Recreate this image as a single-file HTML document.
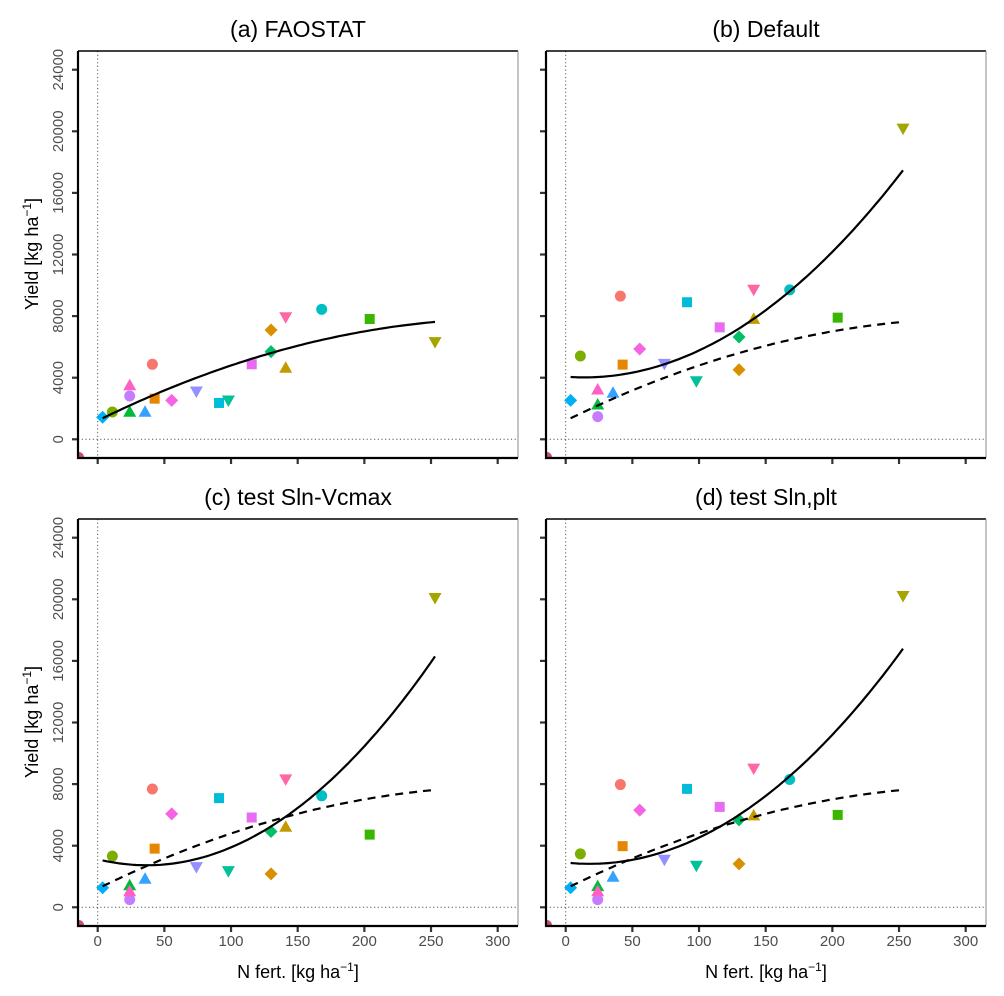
<!DOCTYPE html>
<html><head><meta charset="utf-8"><style>
body{margin:0;background:#fff;}
svg{display:block;font-family:"Liberation Sans",Arial,sans-serif;}
</style></head><body>
<svg id="chart" width="1004" height="996" viewBox="0 0 1004 996"></svg>
<script>
const nFert = [3.7,11,24,24,24,35.5,41,42.7,55.5,74,91,98,115.5,130,130,141,141,168,204,253];
const colors = ["#00B0F6","#7CAE00","#00BA38","#C77CFF","#FF61C3","#35A2FF","#F8766D","#E58700","#F564E3","#9590FF","#00BCD8","#00C19A","#E76BF3","#00BE67","#D89000","#C49A00","#FF67A4","#00BFC4","#39B600","#A3A500"];
const shapes = ["diamond","circle","triangle","circle","triangle","triangle","circle","square","diamond","down","square","down","square","diamond","diamond","triangle","down","circle","square","down"];
const yieldFAO = [1430,1770,1760,2810,3480,1760,4870,2640,2530,3140,2360,2550,4870,5690,7100,4610,7960,8440,7810,6340];
const yieldDefault = [2530,5410,2230,1470,3200,2990,9300,4850,5860,4930,8900,3800,7270,6640,4520,7790,9740,9700,7900,20210];
const yieldVcmax = [1270,3320,1400,500,1010,1820,7680,3810,6070,2640,7090,2380,5830,4920,2170,5200,8340,7240,4720,20120];
const yieldPlt = [1270,3470,1340,500,1010,1950,7970,3970,6310,3120,7690,2730,6520,5680,2820,5940,9040,8300,6000,20250];
const panelTitles = ["(a) FAOSTAT","(b) Default","(c) test Sln-Vcmax","(d) test Sln,plt"];
const yTicks = [0,4000,8000,12000,16000,20000,24000];
const xTicks = [0,50,100,150,200,250,300];

const NS="http://www.w3.org/2000/svg";
const svg=document.getElementById('chart');
function mk(tag,attrs,parent){const e=document.createElementNS(NS,tag);for(const k in attrs)e.setAttribute(k,attrs[k]);(parent||svg).appendChild(e);return e;}

function quadFit(xs,ys){
  let S=[0,0,0,0,0],T=[0,0,0];
  for(let i=0;i<xs.length;i++){let p=1;for(let k=0;k<5;k++){S[k]+=p;if(k<3)T[k]+=p*ys[i];p*=xs[i];}}
  const A=[[S[0],S[1],S[2],T[0]],[S[1],S[2],S[3],T[1]],[S[2],S[3],S[4],T[2]]];
  for(let i=0;i<3;i++){for(let j=i+1;j<3;j++){const f=A[j][i]/A[i][i];for(let k=i;k<4;k++)A[j][k]-=f*A[i][k];}}
  const c=[0,0,0];
  for(let i=2;i>=0;i--){let s=A[i][3];for(let k=i+1;k<3;k++)s-=A[i][k]*c[k];c[i]=s/A[i][i];}
  return c;
}
const faoFit=quadFit(nFert,yieldFAO);

const panels=[
 {L:78,T:51,R:518,B:458,y:yieldFAO,title:panelTitles[0],yl:true,xl:false,dash:false},
 {L:546,T:51,R:986,B:458,y:yieldDefault,title:panelTitles[1],yl:false,xl:false,dash:true},
 {L:78,T:519,R:518,B:926,y:yieldVcmax,title:panelTitles[2],yl:true,xl:true,dash:true},
 {L:546,T:519,R:986,B:926,y:yieldPlt,title:panelTitles[3],yl:false,xl:true,dash:true}
];
const names=['panel-a-faostat','panel-b-default','panel-c-sln-vcmax','panel-d-sln-plt'];

panels.forEach((p,pi)=>{
  const g=mk('g',{});
  
  
  const x0=p.L+19.7, xs=1.3333;
  const y0=p.B-18.7, ys=61.6/4000;
  const X=v=>x0+v*xs, Y=v=>y0-v*ys;
  const cid='clip'+pi;
  const cp=mk('clipPath',{id:cid},g);mk('rect',{x:p.L,y:p.T,width:p.R-p.L,height:p.B-p.T},cp);
  const t=mk('text',{x:(p.L+p.R)/2,y:p.T-14,'text-anchor':'middle','font-size':'23',fill:'#000'},g);
  t.textContent=p.title;
  
  
  // reference lines
  const rl1=mk('line',{x1:X(0),x2:X(0),y1:p.T,y2:p.B,stroke:'#555','stroke-width':1,'stroke-dasharray':'1.2,2.5'},g);
  
  
  const rl2=mk('line',{x1:p.L,x2:p.R,y1:Y(0),y2:Y(0),stroke:'#555','stroke-width':1,'stroke-dasharray':'1.2,2.5'},g);
  
  
  // ticks
  yTicks.forEach(v=>{
    const tk=mk('line',{x1:p.L-6,x2:p.L,y1:Y(v),y2:Y(v),stroke:'#333','stroke-width':2.2},g);
    
    
    if(p.yl){
      const lb=mk('text',{x:0,y:0,transform:`translate(${p.L-15},${Y(v)}) rotate(-90)`,'text-anchor':'middle','font-size':'15',fill:'#4d4d4d'},g);
      lb.textContent=v;
      
      
    }
  });
  xTicks.forEach(v=>{
    const tk=mk('line',{x1:X(v),x2:X(v),y1:p.B,y2:p.B+6,stroke:'#333','stroke-width':2.2},g);
    
    
    if(p.xl){
      const lb=mk('text',{x:X(v),y:p.B+20,'text-anchor':'middle','font-size':'15',fill:'#4d4d4d'},g);
      lb.textContent=v;
      
      
    }
  });
  const pg=mk('g',{'clip-path':`url(#${cid})`},g);
  // off-range corner point
  const cd=mk('circle',{cx:p.L+1,cy:p.B-1,r:5,fill:'#C8506E'},pg);
  
  
  // points
  nFert.forEach((xv,i)=>{
    const cx=X(xv),cy=Y(p.y[i]),c=colors[i];let e;
    if(shapes[i]==='circle')e=mk('circle',{cx,cy,r:5.5,fill:c},pg);
    else if(shapes[i]==='square')e=mk('rect',{x:cx-5,y:cy-5,width:10,height:10,fill:c},pg);
    else if(shapes[i]==='diamond')e=mk('polygon',{points:`${cx},${cy-6.5} ${cx+6.5},${cy} ${cx},${cy+6.5} ${cx-6.5},${cy}`,fill:c},pg);
    else if(shapes[i]==='triangle')e=mk('polygon',{points:`${cx},${cy-7} ${cx+6.5},${cy+4.5} ${cx-6.5},${cy+4.5}`,fill:c},pg);
    else e=mk('polygon',{points:`${cx},${cy+7} ${cx+6.5},${cy-4.5} ${cx-6.5},${cy-4.5}`,fill:c},pg);
    
    
  });
  function curve(c,dash,name){
    const xmin=Math.min(...nFert),xmax=Math.max(...nFert);let d='';
    for(let k=0;k<=80;k++){const xv=xmin+(xmax-xmin)*k/80;const yv=c[0]+c[1]*xv+c[2]*xv*xv;d+=(k?'L':'M')+X(xv).toFixed(1)+','+Y(yv).toFixed(1);}
    const e=mk('path',{d,fill:'none',stroke:'#000','stroke-width':2.2,'stroke-dasharray':dash?'8,6':'none'},pg);
    
    
  }
  if(p.dash)curve(faoFit,true,'faostat-fit-curve');
  curve(quadFit(nFert,p.y),false,'model-fit-curve');
  // frame
  mk('line',{x1:p.L,x2:p.R,y1:p.T,y2:p.T,stroke:'#000','stroke-width':1.5},g);
  mk('line',{x1:p.R,x2:p.R,y1:p.T,y2:p.B,stroke:'#888','stroke-width':1},g);
  mk('line',{x1:p.L,x2:p.L,y1:p.T,y2:p.B+1,stroke:'#000','stroke-width':2.2},g);
  mk('line',{x1:p.L-1,x2:p.R,y1:p.B,y2:p.B,stroke:'#000','stroke-width':2.2},g);
});
// axis titles
[[254],[722]].forEach(a=>{
  const t=mk('text',{x:0,y:0,transform:`translate(38,${a[0]}) rotate(-90)`,'text-anchor':'middle','font-size':'18',fill:'#000'});
  t.innerHTML='Yield [kg ha<tspan dy="-7" font-size="12">−1</tspan><tspan dy="7">]</tspan>';
  
  
});
[298,766].forEach(cx=>{
  const t=mk('text',{x:cx,y:978,'text-anchor':'middle','font-size':'18',fill:'#000'});
  t.innerHTML='N fert. [kg ha<tspan dy="-7" font-size="12">−1</tspan><tspan dy="7">]</tspan>';
  
  
});
</script>
</body></html>
